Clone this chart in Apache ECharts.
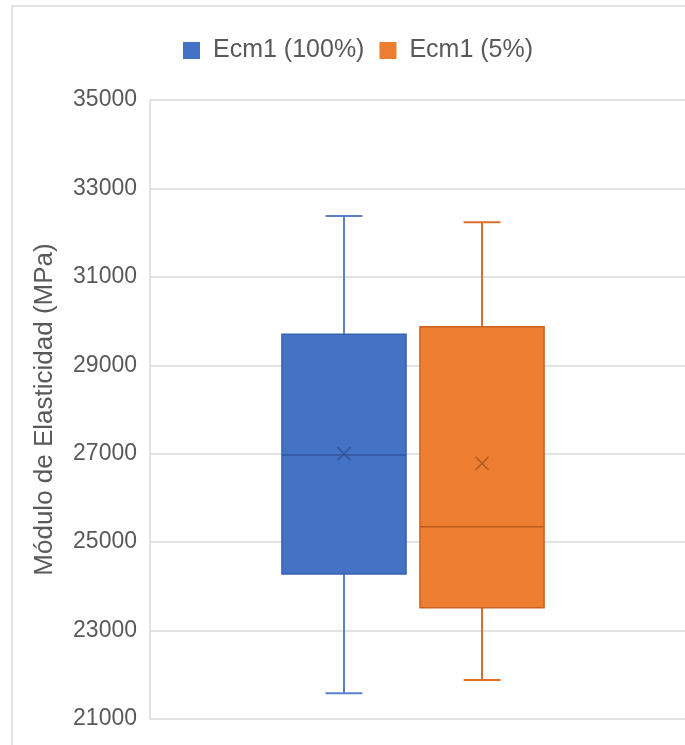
<!DOCTYPE html>
<html>
<head>
<meta charset="utf-8">
<script src="https://cdn.jsdelivr.net/npm/echarts@6/dist/echarts.min.js"></script>
<style>
  html, body { margin: 0; padding: 0; background: #ffffff; }
  #chart { width: 685px; height: 745px; }
</style>
</head>
<body>
<div id="chart"></div>
<script>
// Elastic modulus box plots: five-number summary plus mean for each test set
const categories = ['Ecm1'];
const seriesNames = ['Ecm1 (100%)', 'Ecm1 (5%)'];
// [min, Q1, median, Q3, max]
const boxFull = [21580, 24278, 26970, 29700, 32377];
const boxFive = [21880, 23516, 25349, 29873, 32233];
const meanFull = 27000;
const meanFive = 26782;
const yTicks = [21000, 23000, 25000, 27000, 29000, 31000, 33000, 35000];

const fills = ['#4472C4', '#ED7D31'];
const edges = ['#3763B0', '#C9631F'];
const whiskerCols = ['#5A82CA', '#DB6E28'];
const innerCols = ['#30569A', '#B85C20'];

// horizontal placement inside the category band (fractions of the band width)
const layout = [
  { offset: -0.1374, box: 0.232, cap: 0.069 },
  { offset: 0.1206, box: 0.232, cap: 0.069 }
];

function makeRender(idx) {
  return function (params, api) {
    const cat = api.value(0);
    const L = layout[idx];
    const band = api.size([1, 0])[0];
    const cx = api.coord([cat, 0])[0] + L.offset * band;
    const hw = L.box * band / 2;
    const hc = L.cap * band / 2;
    const y = (v) => api.coord([cat, v])[1];
    const yMin = y(api.value(1)), yQ1 = y(api.value(2)), yMed = y(api.value(3));
    const yQ3 = y(api.value(4)), yMax = y(api.value(5)), yMean = y(api.value(6));
    const wStyle = { stroke: whiskerCols[idx], lineWidth: 2 };
    const m = 6.5;
    return {
      type: 'group',
      children: [
        { type: 'line', shape: { x1: cx, y1: yMax, x2: cx, y2: yQ3 }, style: wStyle },
        { type: 'line', shape: { x1: cx, y1: yQ1, x2: cx, y2: yMin }, style: wStyle },
        { type: 'line', shape: { x1: cx - hc, y1: yMax, x2: cx + hc, y2: yMax }, style: wStyle },
        { type: 'line', shape: { x1: cx - hc, y1: yMin, x2: cx + hc, y2: yMin }, style: wStyle },
        { type: 'rect', shape: { x: cx - hw, y: yQ3, width: hw * 2, height: yQ1 - yQ3 },
          style: { fill: fills[idx], stroke: edges[idx], lineWidth: 1.5 } },
        { type: 'line', shape: { x1: cx - hw, y1: yMed, x2: cx + hw, y2: yMed },
          style: { stroke: innerCols[idx], lineWidth: 1.5 } },
        { type: 'line', shape: { x1: cx - m, y1: yMean - m, x2: cx + m, y2: yMean + m },
          style: { stroke: innerCols[idx], lineWidth: 1.5 } },
        { type: 'line', shape: { x1: cx - m, y1: yMean + m, x2: cx + m, y2: yMean - m },
          style: { stroke: innerCols[idx], lineWidth: 1.5 } }
      ]
    };
  };
}

const chart = echarts.init(document.getElementById('chart'));
chart.setOption({
  animation: false,
  backgroundColor: '#ffffff',
  textStyle: { fontFamily: 'Liberation Sans, Arial, sans-serif' },
  graphic: [{
    type: 'rect', silent: true, z: -10,
    shape: { x: 12, y: 6, width: 760, height: 800 },
    style: { fill: 'none', stroke: '#d9d9d9', lineWidth: 1.5 }
  }],
  legend: {
    left: 178, top: 33,
    itemWidth: 17, itemHeight: 17, itemGap: 15,
    icon: 'rect',
    textStyle: { fontSize: 25, color: '#595959', padding: [0, 0, 0, 8] },
    data: [
      { name: seriesNames[0], itemStyle: { color: fills[0] } },
      { name: seriesNames[1], itemStyle: { color: fills[1] } }
    ]
  },
  grid: { left: 150, right: 0, top: 100, bottom: 26, containLabel: false },
  xAxis: {
    type: 'category', data: categories,
    axisLine: { show: false }, axisTick: { show: false }, axisLabel: { show: false },
    splitLine: { show: false }
  },
  yAxis: {
    type: 'value', min: yTicks[0], max: yTicks[yTicks.length - 1], interval: 2000,
    name: 'Módulo de Elasticidad (MPa)', nameLocation: 'middle', nameGap: 92,
    nameTextStyle: { fontSize: 26, color: '#595959' },
    axisLine: { show: true, lineStyle: { color: '#d9d9d9', width: 1.5 } },
    axisTick: { show: false },
    axisLabel: { fontSize: 23, color: '#595959', margin: 13, formatter: (v) => String(v) },
    splitLine: { lineStyle: { color: '#d9d9d9', width: 1.5 } }
  },
  series: [
    {
      name: seriesNames[0], type: 'custom', renderItem: makeRender(0),
      itemStyle: { color: fills[0] },
      encode: { x: 0, y: [1, 2, 3, 4, 5, 6] },
      data: [[0, ...boxFull, meanFull]]
    },
    {
      name: seriesNames[1], type: 'custom', renderItem: makeRender(1),
      itemStyle: { color: fills[1] },
      encode: { x: 0, y: [1, 2, 3, 4, 5, 6] },
      data: [[0, ...boxFive, meanFive]]
    }
  ]
});
</script>
</body>
</html>
